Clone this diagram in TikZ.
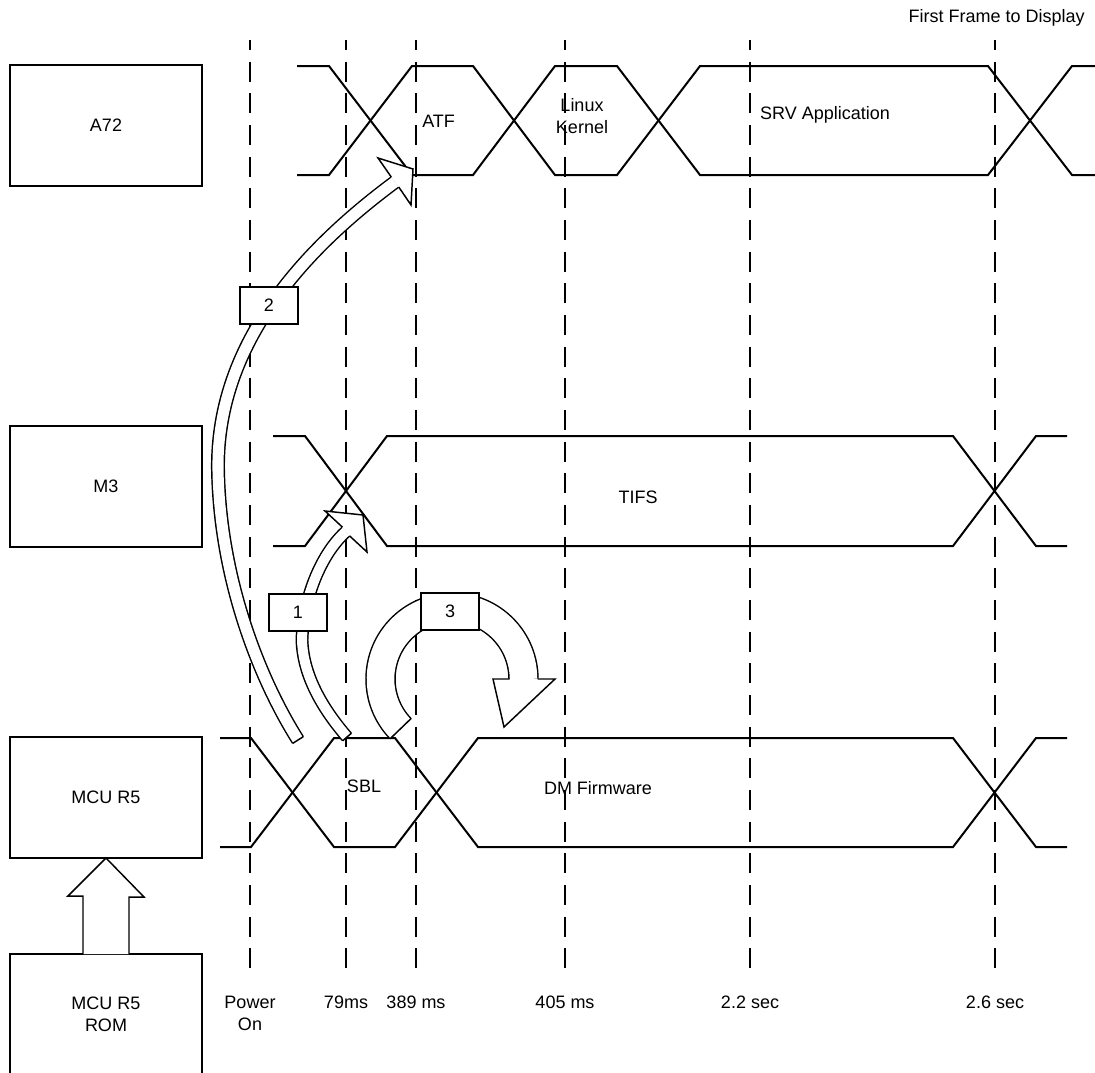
\documentclass[tikz,border=0pt]{standalone}
\usepackage{fontspec}
\setsansfont{Liberation Sans}
\usetikzlibrary{calc}

\begin{document}
\begin{tikzpicture}[
  x=0.75pt, y=-0.75pt,
  font=\sffamily\fontsize{13.5pt}{16.5pt}\selectfont,
  core/.style={draw, line width=1.5pt, minimum width=144pt, minimum height=90.75pt, inner sep=0pt, outer sep=0pt, align=center},
  num/.style={draw, fill=white, line width=1.5pt, minimum width=43.5pt, minimum height=27.75pt, inner sep=0pt},
  bus/.style={line width=1.5pt, line join=miter},
  tline/.style={line width=1pt, dash pattern=on 15pt off 8.75pt, dash phase=7.5pt},
  tlab/.style={anchor=north, align=center, inner sep=0pt},
  band/.style={line width=1.1pt, double=white},
  outl/.style={line width=1.1pt, line join=miter}
]
  \useasboundingbox (0,0) rectangle (1095,1072);

  % time marks
  \foreach \x/\n/\lab in {250/tpo/{Power\\On}, 346/t79/79ms, 416/t389/389 ms,
                          565/t405/405 ms, 750/t22/2.2 sec, 995/t26/2.6 sec} {
    \draw[tline] (\x,40) -- (\x,978);
    \node[tlab] (\n) at (\x,996) {\lab};
  }
  \node[anchor=east, inner sep=0pt] (first) at (1085,18) {First Frame to Display};

  % A72 states
  \draw[bus] (297,66) -- (329,66) -- (412,175) -- (473,175) -- (555,66) -- (617,66)
             -- (700,175) -- (988,175) -- (1072,66) -- (1095,66);
  \draw[bus] (297,175) -- (329,175) -- (412,66) -- (473,66) -- (555,175) -- (617,175)
             -- (700,66) -- (988,66) -- (1072,175) -- (1095,175);
  % M3 states
  \draw[bus] (273,436) -- (305,436) -- (387,546) -- (953,546) -- (1036,436) -- (1067,436);
  \draw[bus] (273,546) -- (305,546) -- (387,436) -- (953,436) -- (1036,546) -- (1067,546);
  % MCU R5 states
  \draw[bus] (220,738) -- (251,738) -- (334,847) -- (395,847) -- (478,738) -- (953,738)
             -- (1036,847) -- (1067,847);
  \draw[bus] (220,847) -- (251,847) -- (334,738) -- (395,738) -- (478,847) -- (953,847)
             -- (1036,738) -- (1067,738);

  % cores
  \node[core] (a72) at (106,125.5) {A72};
  \node[core] (m3) at (106,486) {M3};
  \node[core] (mcu) at (106,797.5) {MCU R5};
  \node[core] (rom) at (106,1014.5) {MCU R5\\ROM};

  % ROM boots MCU R5
  \draw[outl, fill=white] ($(rom.north)+(-23,0)$) -- ++(0,-58) -- ++(-15,0) -- (mcu.south)
        -- ($(mcu.south)+(38,39)$) -- ++(-15,0) -- ($(rom.north)+(23,0)$);

  % step 2: MCU R5 -> A72
  \coordinate (t2) at (298,740);
  \coordinate (h2) at (395,182);
  \draw[band, double distance=8.3pt] (t2) .. controls (260,680) and (220,580) .. (218,470)
        .. controls (216,340) and (310,245) .. (h2);
  \draw[outl, line cap=square] ($(t2)!4.7pt!90:(260,680)$) -- ($(t2)!4.7pt!-90:(260,680)$);
  \fill[white] (391.25,177) -- (378,158) -- (413,169) -- (411,205) -- (398.75,187) -- cycle;
  \draw[outl] (391.25,177) -- (378,158) -- (413,169) -- (411,205) -- (398.75,187);

  % step 1: MCU R5 -> M3
  \coordinate (t1) at (347,737);
  \coordinate (h1) at (346,531.5);
  \draw[band, double distance=7.5pt] (t1) .. controls (322,708) and (303,675) .. (302,640)
        .. controls (303,600) and (320,555) .. (h1);
  \draw[outl, line cap=square] ($(t1)!4.3pt!90:(322,708)$) -- ($(t1)!4.3pt!-90:(322,708)$);
  \fill[white] (342.5,527.2) -- (325,511) -- (363,515) -- (367,552) -- (349.5,535.8) -- cycle;
  \draw[outl] (342.5,527.2) -- (325,511) -- (363,515) -- (367,552) -- (349.5,535.8);

  % step 3: SBL -> DM firmware
  \coordinate (ring) at (452,679);
  \draw[band, double distance=20.65pt] ($(ring)+(136:71.5)$) arc[start angle=136, end angle=360, radius=71.5];
  \draw[outl, line cap=square] ($(ring)+(136:57)$) -- ($(ring)+(136:86)$);
  \fill[white] (509.5,679) -- (493,679) -- (504,727) -- (555,679) -- (537.5,679) -- cycle;
  \draw[outl] (509.5,679) -- (493,679) -- (504,727) -- (555,679) -- (537.5,679);

  \node[num] (n1) at (298,612) {1};
  \node[num] (n2) at (269,305.5) {2};
  \node[num] (n3) at (450,611.5) {3};

  % state names
  \node[anchor=west, inner sep=0pt] (atf) at (422,121) {ATF};
  \node[align=center, inner sep=0pt] (linux) at (582,116) {Linux\\Kernel};
  \node[inner sep=0pt] (srv) at (825,115) {SRV Application};
  \node[inner sep=0pt] (tifs) at (638,497) {TIFS};
  \node[inner sep=0pt] (sbl) at (364,786) {SBL};
  \node[inner sep=0pt] (dmfw) at (598,788) {DM Firmware};
\end{tikzpicture}
\end{document}
